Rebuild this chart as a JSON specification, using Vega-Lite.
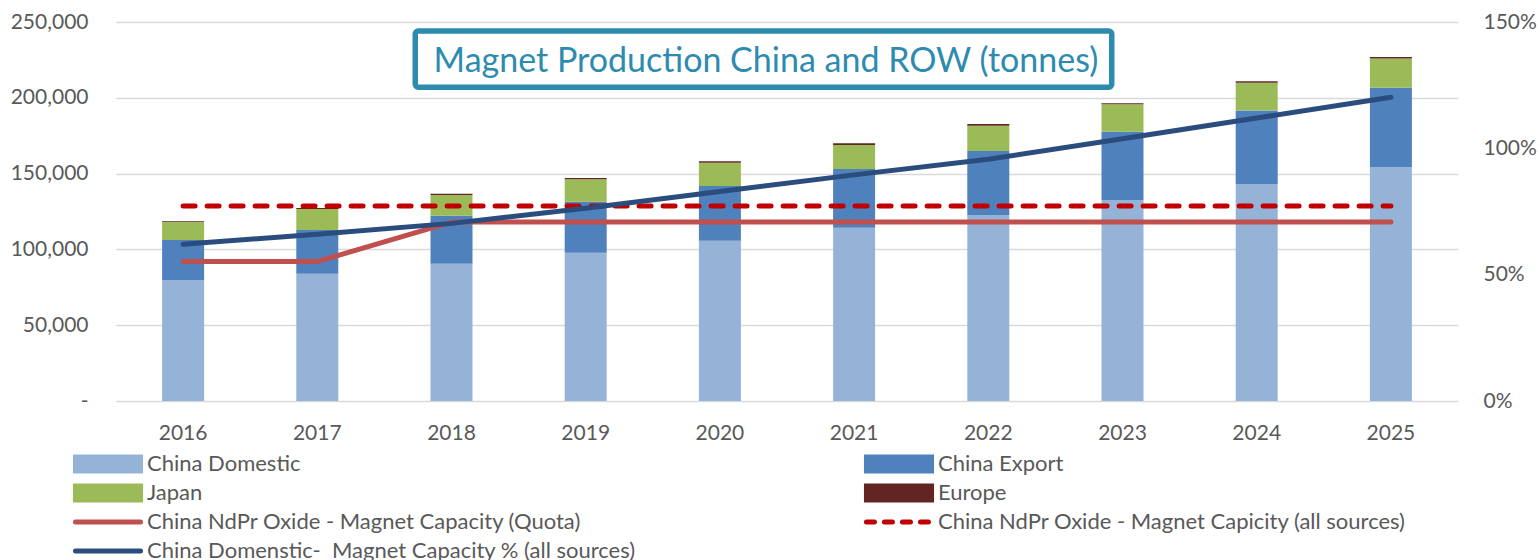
{
  "$schema": "https://vega.github.io/schema/vega-lite/v6.json",
  "width": 1342,
  "height": 379,
  "autosize": "none",
  "padding": {"left": 116, "top": 22, "right": 81, "bottom": 159},
  "background": "white",
  "config": {
    "view": {"stroke": null},
    "font": "Lato",
    "axis": {"labelFont": "Lato", "labelFontSize": 21, "labelColor": "#595959", "domain": false, "ticks": false, "tickSize": 0, "title": null, "grid": false}
  },
  "datasets": {
    "bars": [
      {"year": "2016", "series": "China Domestic", "value": 79600},
      {"year": "2016", "series": "China Export", "value": 26600},
      {"year": "2016", "series": "Japan", "value": 11800},
      {"year": "2016", "series": "Europe", "value": 600},
      {"year": "2017", "series": "China Domestic", "value": 84000},
      {"year": "2017", "series": "China Export", "value": 28800},
      {"year": "2017", "series": "Japan", "value": 13800},
      {"year": "2017", "series": "Europe", "value": 700},
      {"year": "2018", "series": "China Domestic", "value": 90600},
      {"year": "2018", "series": "China Export", "value": 31600},
      {"year": "2018", "series": "Japan", "value": 13700},
      {"year": "2018", "series": "Europe", "value": 800},
      {"year": "2019", "series": "China Domestic", "value": 97800},
      {"year": "2019", "series": "China Export", "value": 33700},
      {"year": "2019", "series": "Japan", "value": 14700},
      {"year": "2019", "series": "Europe", "value": 900},
      {"year": "2020", "series": "China Domestic", "value": 105700},
      {"year": "2020", "series": "China Export", "value": 36100},
      {"year": "2020", "series": "Japan", "value": 15400},
      {"year": "2020", "series": "Europe", "value": 900},
      {"year": "2021", "series": "China Domestic", "value": 114300},
      {"year": "2021", "series": "China Export", "value": 38700},
      {"year": "2021", "series": "Japan", "value": 15900},
      {"year": "2021", "series": "Europe", "value": 1100},
      {"year": "2022", "series": "China Domestic", "value": 122700},
      {"year": "2022", "series": "China Export", "value": 42200},
      {"year": "2022", "series": "Japan", "value": 16700},
      {"year": "2022", "series": "Europe", "value": 1100},
      {"year": "2023", "series": "China Domestic", "value": 132600},
      {"year": "2023", "series": "China Export", "value": 45000},
      {"year": "2023", "series": "Japan", "value": 18100},
      {"year": "2023", "series": "Europe", "value": 700},
      {"year": "2024", "series": "China Domestic", "value": 143100},
      {"year": "2024", "series": "China Export", "value": 48600},
      {"year": "2024", "series": "Japan", "value": 18300},
      {"year": "2024", "series": "Europe", "value": 900},
      {"year": "2025", "series": "China Domestic", "value": 154300},
      {"year": "2025", "series": "China Export", "value": 52400},
      {"year": "2025", "series": "Japan", "value": 19300},
      {"year": "2025", "series": "Europe", "value": 900}
    ],
    "quota": [
      {"year": "2016", "series": "China NdPr Oxide - Magnet Capacity (Quota)", "value": 92000},
      {"year": "2017", "series": "China NdPr Oxide - Magnet Capacity (Quota)", "value": 92000},
      {"year": "2018", "series": "China NdPr Oxide - Magnet Capacity (Quota)", "value": 118000},
      {"year": "2019", "series": "China NdPr Oxide - Magnet Capacity (Quota)", "value": 118000},
      {"year": "2020", "series": "China NdPr Oxide - Magnet Capacity (Quota)", "value": 118000},
      {"year": "2021", "series": "China NdPr Oxide - Magnet Capacity (Quota)", "value": 118000},
      {"year": "2022", "series": "China NdPr Oxide - Magnet Capacity (Quota)", "value": 118000},
      {"year": "2023", "series": "China NdPr Oxide - Magnet Capacity (Quota)", "value": 118000},
      {"year": "2024", "series": "China NdPr Oxide - Magnet Capacity (Quota)", "value": 118000},
      {"year": "2025", "series": "China NdPr Oxide - Magnet Capacity (Quota)", "value": 118000}
    ],
    "allsrc": [
      {"year": "2016", "series": "China NdPr Oxide - Magnet Capicity (all sources)", "value": 128600},
      {"year": "2017", "series": "China NdPr Oxide - Magnet Capicity (all sources)", "value": 128600},
      {"year": "2018", "series": "China NdPr Oxide - Magnet Capicity (all sources)", "value": 128600},
      {"year": "2019", "series": "China NdPr Oxide - Magnet Capicity (all sources)", "value": 128600},
      {"year": "2020", "series": "China NdPr Oxide - Magnet Capicity (all sources)", "value": 128600},
      {"year": "2021", "series": "China NdPr Oxide - Magnet Capicity (all sources)", "value": 128600},
      {"year": "2022", "series": "China NdPr Oxide - Magnet Capicity (all sources)", "value": 128600},
      {"year": "2023", "series": "China NdPr Oxide - Magnet Capicity (all sources)", "value": 128600},
      {"year": "2024", "series": "China NdPr Oxide - Magnet Capicity (all sources)", "value": 128600},
      {"year": "2025", "series": "China NdPr Oxide - Magnet Capicity (all sources)", "value": 128600}
    ],
    "pct": [
      {"year": "2016", "series": "China Domenstic-  Magnet Capacity % (all sources)", "pct": 62.0},
      {"year": "2017", "series": "China Domenstic-  Magnet Capacity % (all sources)", "pct": 66.0},
      {"year": "2018", "series": "China Domenstic-  Magnet Capacity % (all sources)", "pct": 70.3},
      {"year": "2019", "series": "China Domenstic-  Magnet Capacity % (all sources)", "pct": 76.3},
      {"year": "2020", "series": "China Domenstic-  Magnet Capacity % (all sources)", "pct": 82.9},
      {"year": "2021", "series": "China Domenstic-  Magnet Capacity % (all sources)", "pct": 89.5},
      {"year": "2022", "series": "China Domenstic-  Magnet Capacity % (all sources)", "pct": 95.7},
      {"year": "2023", "series": "China Domenstic-  Magnet Capacity % (all sources)", "pct": 103.8},
      {"year": "2024", "series": "China Domenstic-  Magnet Capacity % (all sources)", "pct": 112.0},
      {"year": "2025", "series": "China Domenstic-  Magnet Capacity % (all sources)", "pct": 120.2}
    ]
  },
  "layer": [
    {
      "layer": [
        {
          "layer": [
            {
              "data": {"name": "bars"},
              "transform": [{"calculate": "indexof(['China Domestic','China Export','Japan','Europe'], datum.series)", "as": "ord"}],
              "mark": {"type": "bar"},
              "encoding": {
                "x": {"field": "year", "type": "ordinal", "scale": {"paddingInner": 0.687, "paddingOuter": 0.3435}, "axis": {"labelAngle": 0, "labelPadding": 21, "labelBaseline": "top"}},
                "y": {"field": "value", "type": "quantitative", "stack": "zero", "scale": {"domain": [0, 250000], "nice": false}, "axis": {"values": [0, 50000, 100000, 150000, 200000, 250000], "grid": true, "gridColor": "#d9d9d9", "gridWidth": 1.5, "labelExpr": "datum.value == 0 ? '-' : format(datum.value, ',')", "labelPadding": 28}},
                "color": {
                  "field": "series", "type": "nominal",
                  "scale": {
                    "domain": ["China Domestic", "China Export", "Japan", "Europe", "China NdPr Oxide - Magnet Capacity (Quota)", "China NdPr Oxide - Magnet Capicity (all sources)", "China Domenstic-  Magnet Capacity % (all sources)"],
                    "range": ["#95B3D7", "#4F81BD", "#9BBB59", "#632523", "#C0504D", "#C00000", "#2B4D7E"]
                  },
                  "legend": {
                    "orient": "none", "legendX": -43, "legendY": 431, "columns": 2, "direction": "horizontal", "gridAlign": "all", "title": null, "padding": 0, "offset": 0,
                    "labelFont": "Lato", "labelFontSize": 22, "labelColor": "#595959", "labelLimit": 800,
                    "labelExpr": "replace(datum.label, '-  ', '-\u00a0 ')",
                    "symbolSize": 196, "symbolOffset": 24, "labelOffset": 28, "rowPadding": -5, "columnPadding": 220, "symbolStrokeWidth": 5,
                    "encode": {
                      "symbols": {
                        "update": {
                          "shape": {"signal": "datum.index < 4 ? 'M-4.65,-1H4.65V1H-4.65Z' : 'M-4.65,0H4.65'"},
                          "fill": {"signal": "datum.index < 4 ? scale('color', datum.value) : 'transparent'"},
                          "stroke": {"signal": "datum.index < 4 ? 'transparent' : scale('color', datum.value)"},
                          "strokeWidth": {"value": 5},
                          "strokeCap": {"value": "round"},
                          "strokeDash": {"signal": "datum.index == 5 ? [8, 10] : [1000, 0]"},
                          "opacity": {"value": 1},
                          "size": {"value": 196}
                        }
                      }
                    }
                  }
                },
                "order": {"field": "ord", "type": "quantitative", "sort": "ascending"}
              }
            },
            {
              "data": {"name": "quota"},
              "mark": {"type": "line", "strokeWidth": 5, "strokeCap": "round", "strokeJoin": "round"},
              "encoding": {
                "x": {"field": "year", "type": "ordinal"},
                "y": {"field": "value", "type": "quantitative"},
                "color": {"field": "series", "type": "nominal"}
              }
            },
            {
              "data": {"name": "allsrc"},
              "mark": {"type": "line", "strokeWidth": 5, "strokeCap": "round", "strokeDash": [12, 12]},
              "encoding": {
                "x": {"field": "year", "type": "ordinal"},
                "y": {"field": "value", "type": "quantitative"},
                "color": {"field": "series", "type": "nominal"}
              }
            }
          ]
        },
        {
          "data": {"name": "pct"},
          "mark": {"type": "line", "strokeWidth": 5, "strokeCap": "round", "strokeJoin": "round"},
          "encoding": {
            "x": {"field": "year", "type": "ordinal"},
            "y": {"field": "pct", "type": "quantitative", "scale": {"domain": [0, 150], "nice": false}, "axis": {"orient": "right", "values": [0, 50, 100, 150], "labelExpr": "datum.value + '%'", "labelPadding": 25, "labelAlign": "left", "grid": false}},
            "color": {"field": "series", "type": "nominal"}
          }
        }
      ],
      "resolve": {"scale": {"y": "independent"}}
    },
    {
      "data": {"values": [{}]},
      "layer": [
        {
          "mark": {"type": "rect", "fill": "white", "stroke": "#2E8BB0", "strokeWidth": 5.5, "cornerRadius": 3},
          "encoding": {
            "x": {"datum": 2017.73, "type": "quantitative", "scale": {"domain": [2015.5, 2025.5], "nice": false, "zero": false}, "axis": null},
            "x2": {"datum": 2022.92},
            "y": {"datum": 244000, "type": "quantitative", "scale": {"domain": [0, 250000], "nice": false}, "axis": null},
            "y2": {"datum": 207000}
          }
        },
        {
          "mark": {"type": "text", "text": "Magnet Production China and ROW (tonnes)", "font": "Lato", "fontSize": 34, "color": "#2E8BB0", "align": "center", "baseline": "middle"},
          "encoding": {
            "x": {"datum": 2020.343, "type": "quantitative"},
            "y": {"datum": 223300, "type": "quantitative"}
          }
        }
      ]
    }
  ],
  "resolve": {"scale": {"x": "independent", "y": "independent"}}
}
